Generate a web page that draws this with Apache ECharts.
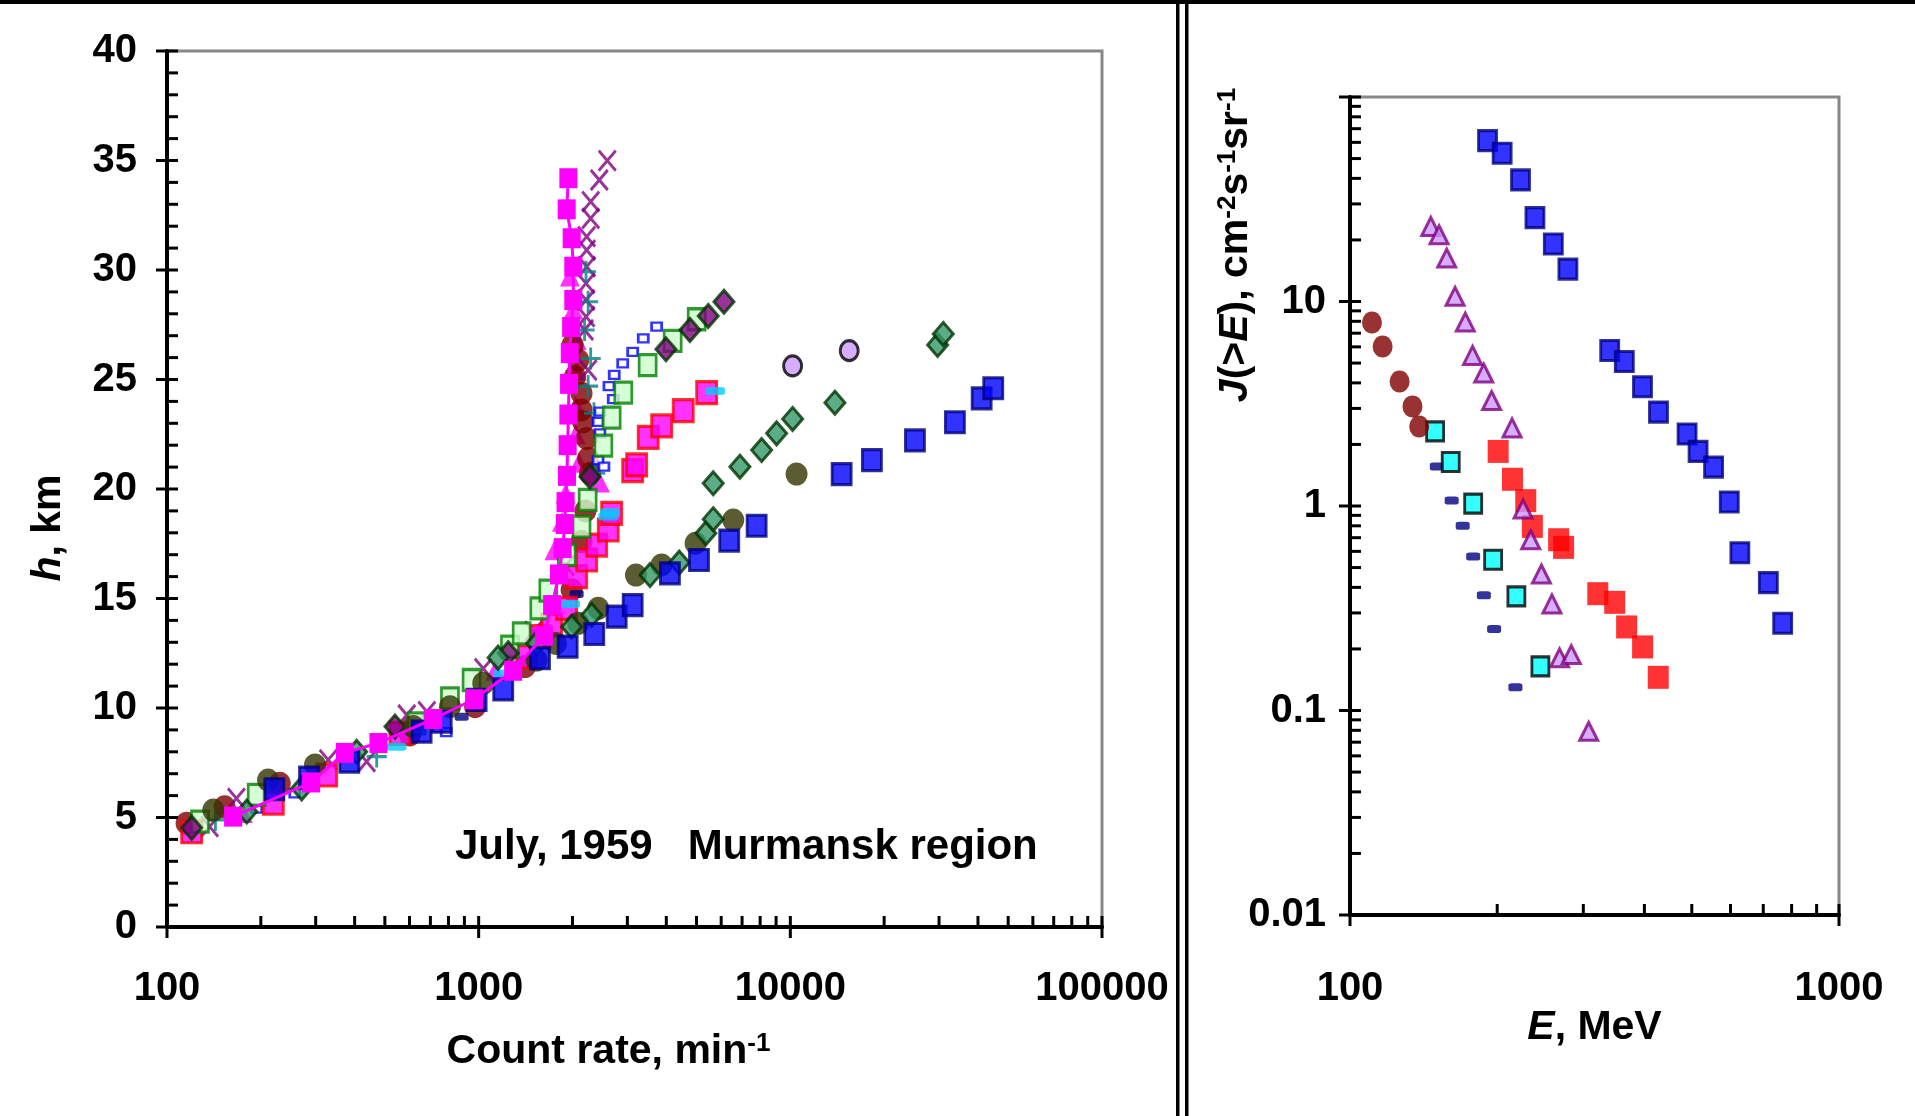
<!DOCTYPE html>
<html>
<head>
<meta charset="utf-8">
<script src="https://cdn.jsdelivr.net/npm/echarts/dist/echarts.min.js"></script>
<style>
  html, body { margin: 0; padding: 0; background: #ffffff; }
  #chart { width: 1915px; height: 1116px; }
</style>
</head>
<body>
<div id="chart"></div>
<script>
// ---------- Left panel: count rate (min^-1) vs altitude h (km), July 1959, Murmansk region ----------
const magentaSquares = [[163,5.04],[290,6.6],[372,7.95],[477,8.4],[715,9.5],[967,10.4],[1290,11.7],[1620,13.3],[1720,14.7],[1810,16.1],[1860,17.3],[1890,18.4],[1900,19.4],[1920,20.6],[1930,22.0],[1940,23.4],[1950,24.8],[1960,26.2],[1980,27.4],[2012,28.63],[2012,30.15],[1988,31.45],[1916,32.77],[1940,34.19]];
const magentaTriangles = [[175,5.2],[1130,11.7],[1750,17.2],[1850,18.5],[1900,19.8],[2450,20.3],[2100,21.2],[2050,22.5],[2050,23.8],[2063,25.4],[2063,26.8],[2012,28.2],[1963,29.7]];
const maroonCircles = [[115.6,4.74],[153,5.49],[230,6.56],[602,8.77],[974,10.06],[1408,11.89],[1987,15.4],[2138,17.6],[2200,19.0],[2276,20.72],[2245,21.40],[2221,22.31],[2162,23.07],[2138,23.61],[2138,24.37],[2037,25.13],[2087,25.89],[2001,26.58]];
const purpleCrosses = [[137,4.58],[167,5.87],[329,7.63],[437,7.55],[588,9.68],[682,9.83],[1035,11.8],[1500,13.5],[1900,16.5],[2245,25.43],[2187,27.26],[2210,27.87],[2210,28.63],[2210,29.39],[2221,30.15],[2221,30.91],[2221,31.52],[2288,32.36],[2288,33.12],[2438,34.11],[2586,34.99]];
const tealPluses = [[143,4.89],[470.8,7.78],[2367,20.72],[2344,23.46],[2245,24.70],[2288,25.96],[2187,27.26],[2245,28.55],[2210,29.92]];
const smallBlueOpen = [[194,5.4],[257,6.1],[787,8.9],[2416,21.32],[2523,21.02],[2449,22.54],[2416,23.07],[2449,23.53],[2703,24.10],[2618,24.70],[2723,25.21],[2898,25.74],[3120,26.26],[3374,26.88],[3724,27.41]];
const navyDashesLeft = [[882,9.6],[2063,15.2]];
const redEdgedSquares = [[120,4.35],[219.3,5.65],[325.3,6.94],[559,8.84],[1426,12.34],[1573,13.26],[1715,13.79],[1916,14.55],[2063,16.0],[2221,16.76],[2391,17.44],[2605,18.13],[2671,18.89],[3120,20.84],[3213,21.10],[3500,22.36],[3865,22.88],[4533,23.58],[5389,24.40]];
const paleGreenSquares = [[127.6,4.81],[194,6.03],[632,9.30],[809,10.44],[949,11.28],[1260,12.8],[1374,13.41],[1565,14.55],[1673,15.36],[1916,16.99],[2138,18.28],[2237,19.50],[2512,21.98],[2671,23.26],[2911,24.40],[3485,25.66],[4193,26.76],[5006,27.75]];
const purpleDiamonds = [[120,4.53],[539,9.15],[1244,12.5],[2276,20.56],[3990,26.38],[4763,27.26],[5452,27.90],[6124,28.55]];
const skyDashes = [[545,8.23],[1200,11.58],[1963,14.75],[2605,18.74],[2638,18.95],[5728,24.47]];
const lilacCircles = [[10170,25.62],[15450,26.32]];
const oliveCircles = [[140.8,5.34],[211,6.71],[298.5,7.40],[617,9.15],[809,10.06],[1035,11.13],[1534,12.19],[1770,12.95],[2087,13.87],[2419,14.55],[3196,16.07],[3865,16.53],[4966,17.52],[6560,18.58],[10470,20.68]];
const seaGreenDiamonds = [[180.3,5.27],[270.5,6.33],[406,8.0],[1154,12.3],[1535,12.95],[1987,13.71],[2304,14.25],[3546,16.07],[4402,16.64],[5359,17.98],[5657,18.62],[5657,20.26],[6890,21.02],[8090,21.78],[9036,22.54],[10170,23.2],[13900,23.94],[29690,26.58],[30950,27.08]];
const blueSquares = [[221,6.29],[285.5,6.82],[384.6,7.55],[656,8.92],[761,9.37],[985,10.37],[1199,10.85],[1573,12.27],[1930,12.80],[2349,13.38],[2772,14.17],[3120,14.70],[4109,16.15],[5092,16.76],[6368,17.64],[7796,18.32],[14610,20.68],[18270,21.32],[25110,22.22],[33730,23.05],[41100,24.14],[44770,24.6]];

// ---------- Right panel: integral spectra J(>E) vs E (MeV) ----------
const navyDashE = [150.5,161.4,170.0,178.6,187.8,197.1,217.9];
const navyDashJ = [1.561,1.065,0.801,0.567,0.366,0.2505,0.1299];
const cyanSquareE = [149.3,160.7,178.6,196.2,218.9,245.1];
const cyanSquareJ = [2.315,1.641,1.028,0.546,0.3615,0.1644];
const maroonDotE = [110.9,116.6,126.3,134.2,138.5];
const maroonDotJ = [7.90,6.03,4.06,3.07,2.45];
const redSquareE = [200.9,214.9,228.8,236.0,267.1,273.4,321.2,347.8,367.9,396.6,426.9];
const redSquareJ = [1.849,1.351,1.062,0.795,0.684,0.6275,0.3727,0.338,0.2562,0.2046,0.1453];
const triangleE = [146.3,152.1,157.7,164.0,172.1,178.1,187.7,194.8,214.5,225.9,234.2,246.3,258.8,268.3,283.5,307.7];
const triangleJ = [23.3,21.2,16.3,10.6,7.93,5.45,4.47,3.28,2.41,0.967,0.684,0.465,0.332,0.181,0.1876,0.0791];
const blueSquareE = [191.1,204.7,223.2,238.9,260.5,279.0,339.7,363.9,396.4,427.4,489,515,554,596.5,627,717,767];
const blueSquareJ = [61.2,53.1,39.3,25.7,19.1,14.4,5.76,5.09,3.83,2.88,2.25,1.85,1.55,1.046,0.591,0.422,0.267];

// ---------- Axis ticks ----------
const leftRateMajor = [100, 1000, 10000, 100000];
const leftAltMajor = [0, 5, 10, 15, 20, 25, 30, 35, 40];
const rightEnergyMajor = [100, 1000];
const rightFluxMajor = [0.01, 0.1, 1, 10, 100];

const FONT = "'Liberation Sans', Arial, Helvetica, sans-serif";
const zip = (a, b) => a.map((v, i) => [v, b[i]]);

// minor ticks 2..9 within every decade between the given majors
function logMinors(majors) {
  const out = [];
  for (let i = 0; i < majors.length - 1; i++) {
    for (let m = 2; m <= 9; m++) out.push(+(majors[i] * m).toPrecision(6));
  }
  return out;
}
function linMinors(majors, step) {
  const out = [];
  for (let v = majors[0]; v < majors[majors.length - 1]; v += step) {
    if (majors.indexOf(v) < 0) out.push(v);
  }
  return out;
}
// tick records: [x, y, kind]  kind 0 = x minor, 1 = x major, 2 = y minor, 3 = y major
function tickData(xMaj, xMin, yMaj, yMin, xAt, yAt) {
  const d = [];
  xMin.forEach(v => d.push([v, yAt, 0]));
  xMaj.forEach(v => d.push([v, yAt, 1]));
  yMin.forEach(v => d.push([xAt, v, 2]));
  yMaj.forEach(v => d.push([xAt, v, 3]));
  return d;
}
const TICK_IN = 11, TICK_OUT = 11;
function renderTick(params, api) {
  const kind = api.value(2);
  const p = api.coord([api.value(0), api.value(1)]);
  let shape;
  if (kind < 2) {
    shape = { x1: p[0], y1: p[1] - TICK_IN, x2: p[0], y2: p[1] + (kind === 1 ? TICK_OUT : 0) };
  } else {
    shape = { x1: p[0] - (kind === 3 ? TICK_OUT : 0), y1: p[1], x2: p[0] + TICK_IN, y2: p[1] };
  }
  return { type: 'line', shape: shape, style: { stroke: '#000', lineWidth: 3 } };
}

function numLabel(v) { return String(+(+v).toPrecision(6)); }

const tickLabelStyle = { color: '#000', fontFamily: FONT, fontWeight: 'bold', fontSize: 40 };
const nameRich = {
  n: { fontFamily: FONT, fontWeight: 'bold', fontSize: 41, color: '#000' },
  i: { fontFamily: FONT, fontWeight: 'bold', fontStyle: 'italic', fontSize: 41, color: '#000' },
  s: { fontFamily: FONT, fontWeight: 'bold', fontSize: 26, color: '#000', verticalAlign: 'top' }
};

function scatter(name, data, x, extra) {
  return Object.assign({
    type: 'scatter', name: name, data: data, xAxisIndex: x, yAxisIndex: x,
    animation: false, silent: true
  }, extra);
}

const chart = echarts.init(document.getElementById('chart'), null, { renderer: 'canvas' });

chart.setOption({
  backgroundColor: '#ffffff',
  animation: false,
  grid: [
    { left: 167, top: 51, width: 935, height: 876, show: true, borderColor: '#878787', borderWidth: 3, backgroundColor: 'transparent', outerBoundsMode: 'none' },
    { left: 1350, top: 97, width: 489, height: 818, show: true, borderColor: '#878787', borderWidth: 3, backgroundColor: 'transparent', outerBoundsMode: 'none' }
  ],
  xAxis: [
    {
      type: 'log', gridIndex: 0, min: 100, max: 100000, logBase: 10,
      axisLine: { show: true, lineStyle: { color: '#000', width: 4 } },
      axisTick: { show: false }, splitLine: { show: false }, minorTick: { show: false },
      axisLabel: Object.assign({ margin: 42, formatter: numLabel, showMinLabel: true, showMaxLabel: true }, tickLabelStyle),
      name: '{n|Count rate, min}{s|-1}', nameLocation: 'middle', nameGap: 104, nameMoveOverlap: false,
      nameTextStyle: { rich: nameRich, padding: [0, 52, 0, 0] }
    },
    {
      type: 'log', gridIndex: 1, min: 100, max: 1000, logBase: 10,
      axisLine: { show: true, lineStyle: { color: '#000', width: 4 } },
      axisTick: { show: false }, splitLine: { show: false }, minorTick: { show: false },
      axisLabel: Object.assign({ margin: 54, formatter: numLabel, showMinLabel: true, showMaxLabel: true }, tickLabelStyle),
      name: '{i|E}{n|, MeV}', nameLocation: 'middle', nameGap: 92, nameMoveOverlap: false,
      nameTextStyle: { rich: nameRich }
    }
  ],
  yAxis: [
    {
      type: 'value', gridIndex: 0, min: 0, max: 40, interval: 5,
      axisLine: { show: true, lineStyle: { color: '#000', width: 4 } },
      axisTick: { show: false }, splitLine: { show: false },
      axisLabel: Object.assign({ margin: 30 }, tickLabelStyle),
      name: '{i|h}{n|, km}', nameLocation: 'middle', nameGap: 98, nameMoveOverlap: false,
      nameTextStyle: { rich: nameRich, padding: [0, 78, 0, 0] }
    },
    {
      type: 'log', gridIndex: 1, min: 0.01, max: 100, logBase: 10,
      axisLine: { show: true, lineStyle: { color: '#000', width: 4 } },
      axisTick: { show: false }, splitLine: { show: false }, minorTick: { show: false },
      axisLabel: Object.assign({ margin: 24, formatter: v => (Math.abs(v - 100) < 1e-6 ? '' : numLabel(v)) }, tickLabelStyle),
      name: '{i|J}{n|(>}{i|E}{n|), cm}{s|-2}{n|s}{s|-1}{n|sr}{s|-1}', nameLocation: 'middle', nameGap: 94, nameMoveOverlap: false,
      nameTextStyle: { rich: nameRich, padding: [0, 0, 0, 522] }
    }
  ],
  graphic: [
    { type: 'rect', silent: true, shape: { x: 0, y: 0, width: 1915, height: 4 }, style: { fill: '#000' } },
    { type: 'rect', silent: true, shape: { x: 1176, y: 0, width: 3.5, height: 1116 }, style: { fill: '#000' } },
    { type: 'rect', silent: true, shape: { x: 1185, y: 0, width: 3.5, height: 1116 }, style: { fill: '#000' } },
    {
      type: 'text', silent: true, left: 455, top: 826,
      style: { text: 'July, 1959   Murmansk region', fill: '#000', font: 'bold 42px ' + FONT }
    }
  ],
  series: [
    // axis ticks (major ticks cross the axis line, minor ticks point inward)
    {
      type: 'custom', xAxisIndex: 0, yAxisIndex: 0, silent: true, animation: false, clip: false, z: 5,
      data: tickData(leftRateMajor, logMinors(leftRateMajor), leftAltMajor, linMinors(leftAltMajor, 1), 100, 0),
      renderItem: renderTick
    },
    {
      type: 'custom', xAxisIndex: 1, yAxisIndex: 1, silent: true, animation: false, clip: false, z: 5,
      data: tickData(rightEnergyMajor, logMinors(rightEnergyMajor), rightFluxMajor, logMinors(rightFluxMajor), 100, 0.01),
      renderItem: renderTick
    },

    // left panel profiles
    scatter('magentaTriangles', magentaTriangles, 0, { symbol: 'triangle', symbolSize: [20, 20], itemStyle: { color: '#FF00FF' } }),
    { type: 'line', name: 'magentaSquares', data: magentaSquares, xAxisIndex: 0, yAxisIndex: 0, animation: false, silent: true,
      symbol: 'rect', symbolSize: [18, 20], showSymbol: true, itemStyle: { color: '#FF00FF' }, lineStyle: { color: '#FF00FF', width: 3 } },
    scatter('maroonCircles', maroonCircles, 0, { symbol: 'circle', symbolSize: [22, 23], itemStyle: { color: '#800000' } }),
    scatter('purpleCrosses', purpleCrosses, 0, { symbol: 'path://M0,0L10,10M10,0L0,10', symbolSize: [17, 20],
      itemStyle: { color: 'transparent', borderColor: '#800080', borderWidth: 3 } }),
    scatter('tealPluses', tealPluses, 0, { symbol: 'path://M5,0L5,10M0,5L10,5', symbolSize: [20, 22],
      itemStyle: { color: 'transparent', borderColor: '#008080', borderWidth: 3 } }),
    scatter('smallBlueOpen', smallBlueOpen, 0, { symbol: 'rect', symbolSize: [10, 8], itemStyle: { color: '#ffffff', borderColor: '#0000FF', borderWidth: 2.5 } }),
    scatter('navyDashesLeft', navyDashesLeft, 0, { symbol: 'roundRect', symbolSize: [14, 8], itemStyle: { color: '#000080' } }),
    scatter('redEdgedSquares', redEdgedSquares, 0, { symbol: 'rect', symbolSize: [20, 22], itemStyle: { color: '#FF00FF', borderColor: '#FF0000', borderWidth: 3 } }),
    scatter('paleGreenSquares', paleGreenSquares, 0, { symbol: 'rect', symbolSize: [17, 21], itemStyle: { color: '#CCFFCC', borderColor: '#008000', borderWidth: 3 } }),
    scatter('purpleDiamonds', purpleDiamonds, 0, { symbol: 'diamond', symbolSize: [20, 23], itemStyle: { color: '#800080', borderColor: '#003300', borderWidth: 3 } }),
    scatter('skyDashes', skyDashes, 0, { symbol: 'roundRect', symbolSize: [20, 8], itemStyle: { color: '#00CCFF' } }),
    scatter('lilacCircles', lilacCircles, 0, { symbol: 'circle', symbolSize: [18, 20], itemStyle: { color: '#CC99FF', borderColor: '#000000', borderWidth: 3 } }),
    scatter('oliveCircles', oliveCircles, 0, { symbol: 'circle', symbolSize: [22, 23], itemStyle: { color: '#333300' } }),
    scatter('seaGreenDiamonds', seaGreenDiamonds, 0, { symbol: 'diamond', symbolSize: [20, 23], itemStyle: { color: '#339966', borderColor: '#003300', borderWidth: 3 } }),
    scatter('blueSquares', blueSquares, 0, { symbol: 'rect', symbolSize: [19, 21], itemStyle: { color: '#0000FF', borderColor: '#000080', borderWidth: 3 } }),

    // right panel spectra
    scatter('navyDash', zip(navyDashE, navyDashJ), 1, { symbol: 'roundRect', symbolSize: [14, 8], itemStyle: { color: '#000080' } }),
    scatter('cyanSquare', zip(cyanSquareE, cyanSquareJ), 1, { symbol: 'rect', symbolSize: [17, 19], itemStyle: { color: '#00FFFF', borderColor: '#000000', borderWidth: 3 } }),
    scatter('maroonDot', zip(maroonDotE, maroonDotJ), 1, { symbol: 'circle', symbolSize: [20, 22], itemStyle: { color: '#800000' } }),
    scatter('redSquare', zip(redSquareE, redSquareJ), 1, { symbol: 'rect', symbolSize: [21, 23], itemStyle: { color: '#FF0000' } }),
    scatter('triangle', zip(triangleE, triangleJ), 1, { symbol: 'triangle', symbolSize: [18, 18], itemStyle: { color: '#CC99FF', borderColor: '#800080', borderWidth: 3 } }),
    scatter('blueSquare', zip(blueSquareE, blueSquareJ), 1, { symbol: 'rect', symbolSize: [18, 20], itemStyle: { color: '#0000FF', borderColor: '#000080', borderWidth: 3 } })
  ]
});
</script>
</body>
</html>
